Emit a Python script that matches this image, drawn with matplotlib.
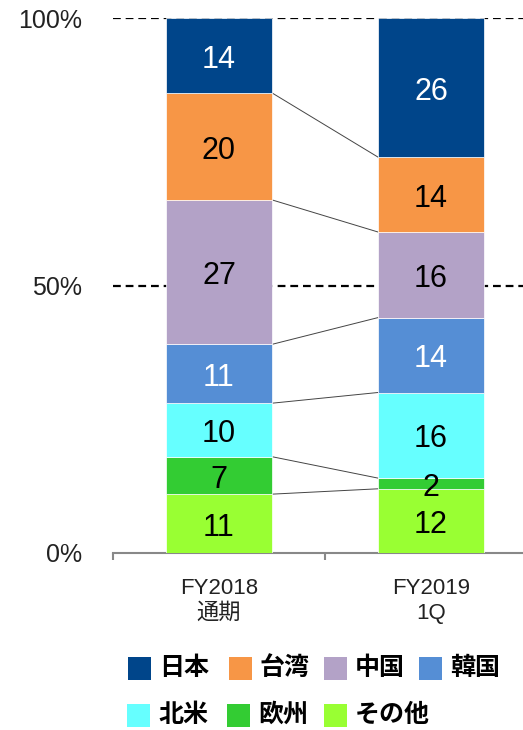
import matplotlib
matplotlib.use("Agg")
import matplotlib.pyplot as plt
from matplotlib.patches import Rectangle

plt.rcParams['font.family'] = ['Liberation Sans', 'Noto Sans CJK JP', 'DejaVu Sans']

categories = ["FY2018\n通期", "FY2019\n1Q"]
regions = ["その他", "欧州", "北米", "韓国", "中国", "台湾", "日本"]
values = {
    "その他": [11, 12],
    "欧州": [7, 2],
    "北米": [10, 16],
    "韓国": [11, 14],
    "中国": [27, 16],
    "台湾": [20, 14],
    "日本": [14, 26],
}
colors = {
    "その他": "#99FF33",
    "欧州": "#33CC33",
    "北米": "#66FFFF",
    "韓国": "#558ED5",
    "中国": "#B3A2C7",
    "台湾": "#F79646",
    "日本": "#00458A",
}
text_colors = {"日本": "white", "韓国": "white"}

W, H = 523, 730
fig = plt.figure(figsize=(W / 100, H / 100), dpi=100)
ax = fig.add_axes([113 / W, 177 / H, 410 / W, 535 / H])

x = [0, 1]
width = 0.5
bottom = [0, 0]
tops = []
for r in regions:
    v = values[r]
    ax.bar(x, v, width, bottom=bottom, color=colors[r], edgecolor="white",
           linewidth=0.5, zorder=3)
    for i in range(2):
        ax.annotate(str(v[i]), (x[i], bottom[i] + v[i] / 2), xytext=(0, -3),
                    textcoords="offset points", ha="center", va="center",
                    fontsize=22, color=text_colors.get(r, "black"), zorder=4)
    bottom = [bottom[i] + v[i] for i in range(2)]
    tops.append(list(bottom))

# connector lines between segment boundaries
for t in tops[:-1]:
    ax.plot([x[0] + width / 2, x[1] - width / 2], t, color="#444444",
            linewidth=0.7, zorder=2)

for yv in [50, 100]:
    ax.axhline(yv, color="black", linestyle=(0, (3.5, 2.2)), linewidth=1.6, zorder=1)

ax.set_xlim(-0.5, 1.434)
ax.set_ylim(0, 100)
ax.set_yticks([0, 50, 100])
ax.set_yticklabels(["0%", "50%", "100%"], fontsize=18, color="#222222")
ax.tick_params(axis="y", length=0, pad=22)

ax.set_xticks(x)
ax.set_xticklabels(categories, fontsize=16, color="#222222", linespacing=1.25)
ax.tick_params(axis="x", which="major", length=0, pad=18)
ax.set_xticks([-0.5, 0.5], minor=True)
ax.tick_params(axis="x", which="minor", length=5, color="#888888", width=1.5)

for s in ["left", "right", "top"]:
    ax.spines[s].set_visible(False)
ax.spines["bottom"].set_color("#888888")
ax.spines["bottom"].set_linewidth(1.5)

# legend, two rows as in the original
legend_rows = [
    [("日本", 128), ("台湾", 229), ("中国", 324), ("韓国", 419)],
    [("北米", 127), ("欧州", 227), ("その他", 324)],
]
row_y = [668, 715]
sq = 23
for row, yc in zip(legend_rows, row_y):
    for name, xl in row:
        fig.patches.append(Rectangle((xl / W, (H - yc - sq / 2) / H), sq / W, sq / H,
                                     transform=fig.transFigure,
                                     facecolor=colors[name], edgecolor="none"))
        fig.text((xl + sq + 8) / W, (H - yc) / H, name, ha="left", va="center",
                 fontsize=18, fontweight="bold", color="black",
                 family=['Noto Sans CJK JP', 'DejaVu Sans'])

fig.savefig("out.png", dpi=100)
